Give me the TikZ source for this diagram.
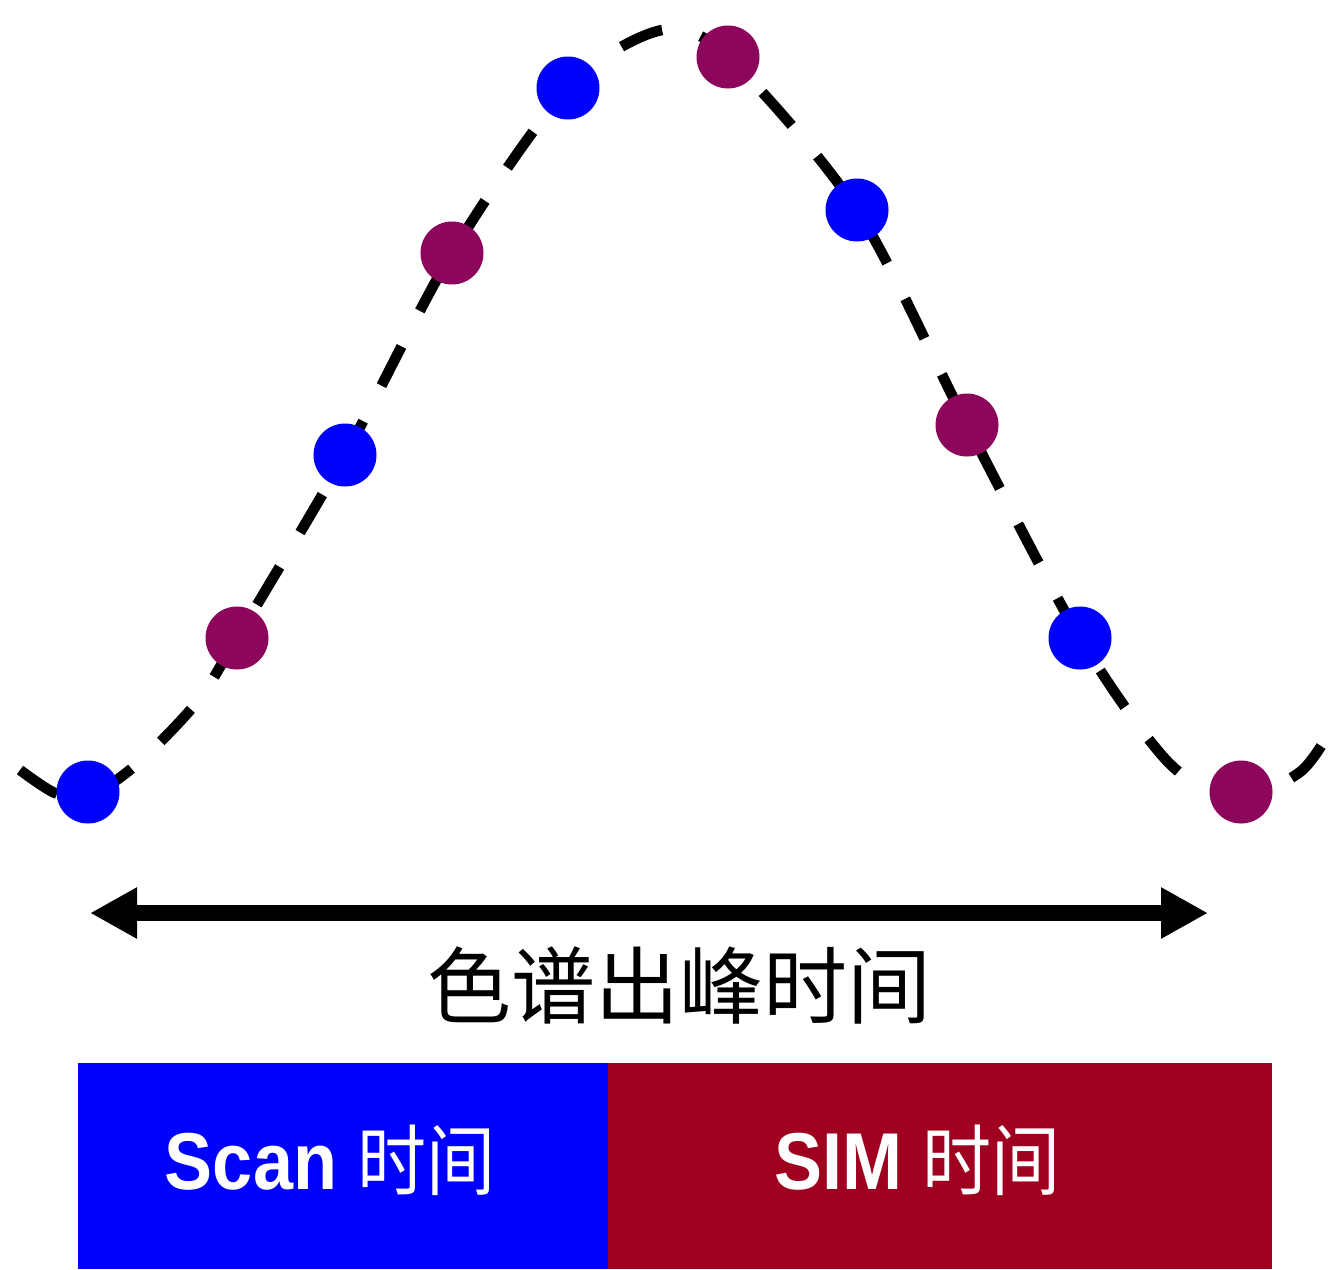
\documentclass[tikz,border=0pt]{standalone}
\usepackage{fontspec}
\setmainfont{Liberation Sans}
\newfontfamily\cjk{Noto Sans CJK SC}
\usetikzlibrary{arrows.meta}
\definecolor{dotblue}{RGB}{0,0,255}
\definecolor{dotpurple}{RGB}{140,6,92}
\definecolor{boxblue}{RGB}{0,0,255}
\definecolor{boxred}{RGB}{160,0,32}
\tikzset{
  bluedot/.style={circle,fill=dotblue,inner sep=0pt,minimum size=63pt},
  purpledot/.style={circle,fill=dotpurple,inner sep=0pt,minimum size=63pt},
  peakcurve/.style={line width=10.5pt,dash pattern=on 44pt off 40pt},
  spanarrow/.style={line width=16pt,{Triangle[length=47pt,width=48pt]}-{Triangle[length=47pt,width=48pt]}},
  colbox/.style={rectangle,inner sep=0pt,minimum height=206pt,anchor=north west},
  boxlabel/.style={text=white,inner sep=0pt,yscale=1.12,transform shape}
}
\begin{document}
\begin{tikzpicture}[x=1pt,y=-1pt]
\useasboundingbox (0,0) rectangle (1329,1269);
% curve
\draw[peakcurve] plot[smooth,tension=0.5] coordinates {
 (20,770) (55,793) (88,797) (137,764) (197,702) (237,638) (345,455) (452,253)
 (568,88) (662,30) (728,57) (857,210) (967,425) (1080,638) (1170,764)
 (1240,798) (1300,772) (1329,733)};
% dots
\node[bluedot] (b1) at (88,792) {};
\node[purpledot] (p1) at (237,638) {};
\node[bluedot] (b2) at (345,455) {};
\node[purpledot] (p2) at (452,253) {};
\node[bluedot] (b3) at (568,88) {};
\node[purpledot] (p3) at (728,57) {};
\node[bluedot] (b4) at (857,210) {};
\node[purpledot] (p4) at (967,425) {};
\node[bluedot] (b5) at (1080,638) {};
\node[purpledot] (p5) at (1241,792) {};
% span arrow
\coordinate (aL) at (90,913);
\coordinate (aR) at (1208,913);
\draw[spanarrow] (aL) -- (aR);
\node[inner sep=0pt] (title) at (679,985) {\cjk\fontsize{84}{90}\selectfont 色谱出峰时间};
% boxes
\node[colbox,fill=boxblue,minimum width=530pt] (scanbox) at (78,1063) {};
\node[colbox,fill=boxred,minimum width=664pt] (simbox) at (608,1063) {};
\node[boxlabel] (scanlbl) at (330,1160) {\fontsize{72}{80}\selectfont\bfseries Scan {\cjk\mdseries\fontsize{69}{80}\selectfont 时间}};
\node[boxlabel] (simlbl) at (917,1160) {\fontsize{72}{80}\selectfont\bfseries SIM {\cjk\mdseries\fontsize{69}{80}\selectfont 时间}};
\end{tikzpicture}
\end{document}
